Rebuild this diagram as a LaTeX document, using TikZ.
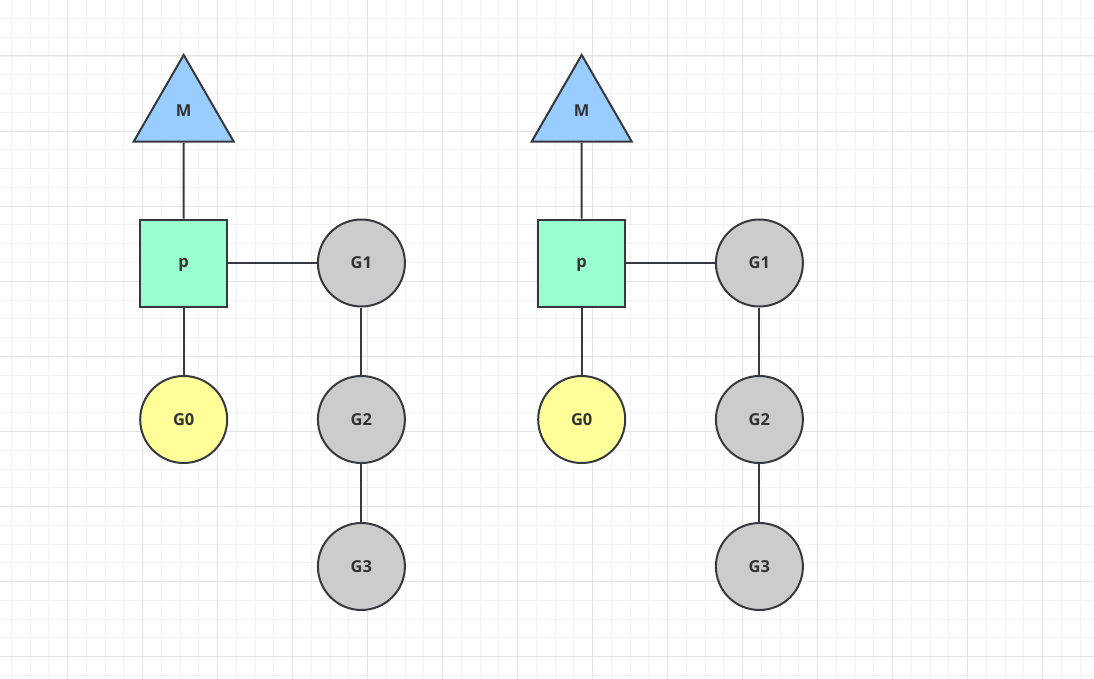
\documentclass[tikz,border=0pt]{standalone}
\usepackage{fontspec}
\setmainfont{Open Sans}
\usetikzlibrary{shapes.geometric}
\definecolor{gridminor}{HTML}{F2F2F2}
\definecolor{gridmajor}{HTML}{E3E3E3}
\definecolor{stroke}{HTML}{36393D}
\definecolor{textc}{HTML}{333333}
\definecolor{mfill}{HTML}{99CCFF}
\definecolor{pfill}{HTML}{99FFCC}
\definecolor{gzero}{HTML}{FFFF99}
\definecolor{gfill}{HTML}{CCCCCC}
\tikzset{
  base/.style={draw=stroke, line width=2pt, text=textc, font=\fontsize{16.5}{19}\selectfont\bfseries, inner sep=0pt},
  mnode/.style={base, regular polygon, regular polygon sides=3, minimum size=115.5pt, fill=mfill},
  pnode/.style={base, rectangle, minimum size=87pt, fill=pfill, text depth=0pt},
  gnode/.style={base, circle, minimum size=87pt, fill=gfill},
  gznode/.style={gnode, fill=gzero},
  link/.style={draw=stroke, line width=2pt}
}
\begin{document}
\begin{tikzpicture}[x=1pt,y=-1pt]
  \useasboundingbox (0,0) rectangle (1094,679);
  \fill[white] (0,0) rectangle (1094,679);
  % background grid: minor every 18.75, major every 75
  \foreach \i in {0,...,58} {
    \pgfmathsetmacro\xx{11.45+18.75*\i}
    \draw[gridminor, line width=1pt] (\xx,0) -- (\xx,679);
  }
  \foreach \i in {0,...,37} {
    \pgfmathsetmacro\yy{-0.25+18.77*\i}
    \draw[gridminor, line width=1pt] (0,\yy) -- (1094,\yy);
  }
  \foreach \i in {0,...,14} {
    \pgfmathsetmacro\xx{-7.3+75*\i}
    \draw[gridmajor, line width=1pt] (\xx,0) -- (\xx,679);
  }
  \foreach \i in {0,...,9} {
    \pgfmathsetmacro\yy{-19.1+75.09*\i}
    \draw[gridmajor, line width=1pt] (0,\yy) -- (1094,\yy);
  }
  % two copies of the M-P-G arrangement
  \foreach \dx/\s in {0/a, 398/b} {
    \begin{scope}[xshift=\dx pt]
      \node[mnode] (M\s) at (183.7,112.7) {\raisebox{4pt}{M}};
      \node[pnode] (P\s) at (183.7,263) {p};
      \node[gnode] (Ga\s) at (361.4,263) {G1};
      \node[gznode] (Gz\s) at (183.7,419.5) {G0};
      \node[gnode] (Gb\s) at (361.4,419.5) {G2};
      \node[gnode] (Gc\s) at (361.4,566.5) {G3};
      \draw[link] (M\s.south) -- (P\s.north);
      \draw[link] (P\s.east) -- (Ga\s.west);
      \draw[link] (P\s.south) -- (Gz\s.north);
      \draw[link] (Ga\s.south) -- (Gb\s.north);
      \draw[link] (Gb\s.south) -- (Gc\s.north);
    \end{scope}
  }
\end{tikzpicture}
\end{document}
